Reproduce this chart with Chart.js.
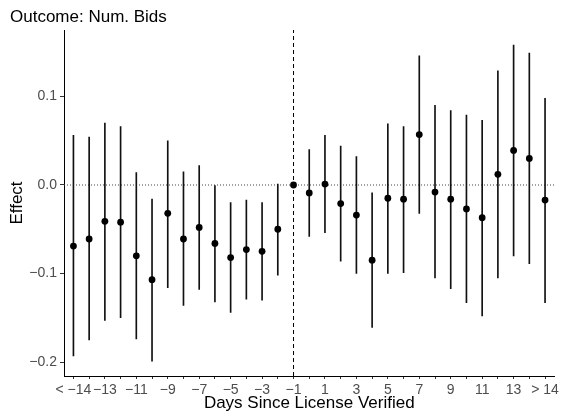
<!DOCTYPE html>
<html>
<head>
<meta charset="utf-8">
<script src="https://cdn.jsdelivr.net/npm/chart.js@4.4.1/dist/chart.umd.min.js"></script>
<style>
  html, body { margin: 0; padding: 0; background: #fff; }
  #wrap { width: 562px; height: 418px; }
</style>
</head>
<body>
<div id="wrap"><canvas id="chart" width="562" height="418"></canvas></div>
<script>
// event-study estimates, one per day bucket (-1 is the reference day)
const days = ["< −14", "−14", "−13", "−12", "−11", "−10", "−9", "−8", "−7", "−6", "−5", "−4", "−3", "−2", "−1",
  "0", "1", "2", "3", "4", "5", "6", "7", "8", "9", "10", "11", "12", "13", "14", "> 14"];
const effect = [-0.069, -0.061, -0.041, -0.042, -0.080, -0.107, -0.032, -0.061, -0.048, -0.066, -0.082, -0.073, -0.075, -0.050, 0,
  -0.009, 0.001, -0.021, -0.034, -0.085, -0.015, -0.016, 0.057, -0.008, -0.016, -0.027, -0.037, 0.012, 0.039, 0.030, -0.017];
const ciHigh = [0.056, 0.054, 0.070, 0.066, 0.014, -0.016, 0.050, 0.015, 0.022, 0.000, -0.020, -0.017, -0.020, 0.001, null,
  0.040, 0.056, 0.044, 0.032, -0.009, 0.069, 0.066, 0.146, 0.090, 0.084, 0.079, 0.073, 0.129, 0.158, 0.149, 0.098];
const ciLow = [-0.193, -0.175, -0.153, -0.150, -0.174, -0.199, -0.116, -0.136, -0.118, -0.132, -0.144, -0.129, -0.130, -0.102, null,
  -0.058, -0.054, -0.086, -0.100, -0.161, -0.100, -0.099, -0.032, -0.105, -0.117, -0.133, -0.148, -0.105, -0.080, -0.089, -0.133];
const yTicks = [-0.2, -0.1, 0.0, 0.1];
// only every other day gets a label
const labelledDays = ["< −14", "−13", "−11", "−9", "−7", "−5", "−3", "−1", "1", "3", "5", "7", "9", "11", "13", "> 14"];
const refDay = "−1";

const FONT = "'Liberation Sans', Arial, Helvetica, sans-serif";
const yMin = -0.2158, yMax = 0.1751;
const xMin = -0.6, xMax = days.length - 1 + 0.6;
const refIdx = days.indexOf(refDay);

const minus = s => s.replace("-", "−");

// plot title sits at the far left, above the y axis
const titlePlugin = {
  id: "plotTitle",
  afterDraw(chart) {
    const ctx = chart.ctx;
    ctx.save();
    ctx.fillStyle = "#000";
    ctx.font = "17px " + FONT;
    ctx.textBaseline = "alphabetic";
    ctx.textAlign = "left";
    ctx.fillText("Outcome: Num. Bids", 10, 22);
    ctx.restore();
  }
};

new Chart(document.getElementById("chart"), {
  type: "scatter",
  plugins: [titlePlugin],
  data: {
    datasets: [
      {
        type: "scatter",
        data: effect.map((v, i) => ({ x: i, y: v })),
        backgroundColor: "#000",
        borderWidth: 0,
        pointRadius: 3.4,
        order: 0
      },
      {
        type: "bar",
        data: ciLow.map((lo, i) => ({ x: i, y: lo === null ? null : [lo, ciHigh[i]] })),
        backgroundColor: "#111",
        borderWidth: 0,
        barThickness: 1,
        grouped: false,
        order: 1
      },
      {
        type: "line",
        data: [{ x: xMin, y: 0 }, { x: xMax, y: 0 }],
        borderColor: "#444",
        borderWidth: 1,
        borderDash: [1, 2],
        pointRadius: 0,
        order: 2
      },
      {
        type: "line",
        data: [{ x: refIdx, y: yMin }, { x: refIdx, y: yMax }],
        borderColor: "#000",
        borderWidth: 1,
        borderDash: [4, 3],
        pointRadius: 0,
        order: 2
      }
    ]
  },
  options: {
    responsive: false,
    animation: false,
    layout: { padding: { top: 30, right: 7, left: 0, bottom: 0 } },
    plugins: { legend: { display: false }, tooltip: { enabled: false } },
    scales: {
      x: {
        type: "linear",
        min: xMin,
        max: xMax,
        offset: false,
        afterBuildTicks: s => { s.ticks = days.map((d, i) => ({ value: i })); },
        afterFit: s => { s.height = 42; },
        grid: { display: true, drawOnChartArea: false, drawTicks: true, tickLength: 3, color: "#333", offset: false },
        border: { display: true, color: "#000", width: 1 },
        ticks: {
          autoSkip: false,
          maxRotation: 0,
          minRotation: 0,
          padding: 3,
          color: "#4d4d4d",
          font: { family: FONT, size: 14 },
          callback: v => labelledDays.includes(days[v]) ? days[v] : ""
        },
        title: {
          display: true,
          text: "Days Since License Verified",
          color: "#000",
          font: { family: FONT, size: 17 },
          padding: { top: 0, bottom: 4 }
        }
      },
      y: {
        type: "linear",
        min: yMin,
        max: yMax,
        afterBuildTicks: s => { s.ticks = yTicks.map(v => ({ value: v })); },
        afterFit: s => { s.width = 64; },
        grid: { display: true, drawOnChartArea: false, drawTicks: true, tickLength: 4, color: "#333" },
        border: { display: true, color: "#000", width: 1 },
        ticks: {
          padding: 3,
          color: "#4d4d4d",
          font: { family: FONT, size: 14 },
          callback: v => minus(v.toFixed(1))
        },
        title: {
          display: true,
          text: "Effect",
          color: "#000",
          font: { family: FONT, size: 17 },
          padding: { top: 7, bottom: 0 }
        }
      }
    }
  }
});
</script>
</body>
</html>
